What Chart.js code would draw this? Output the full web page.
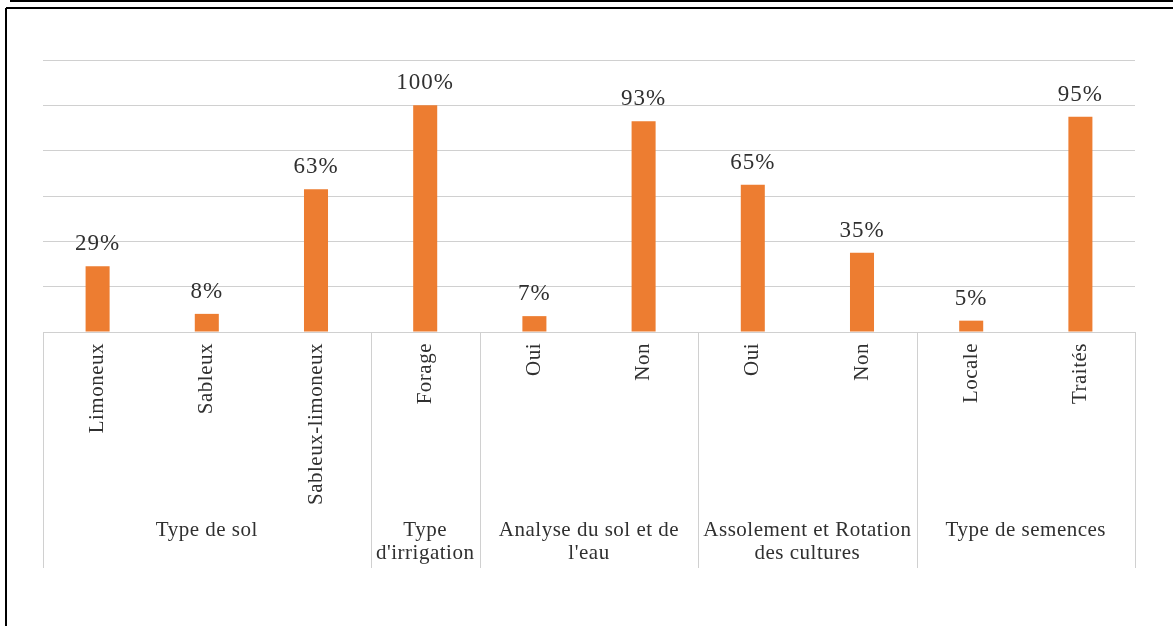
<!DOCTYPE html>
<html>
<head>
<meta charset="utf-8">
<script src="https://cdn.jsdelivr.net/npm/chart.js@4.4.1/dist/chart.umd.min.js"></script>
<style>
  body { margin: 0; background: #fff; }
  #wrap { width: 1173px; height: 626px; position: relative; }
</style>
</head>
<body>
<div id="wrap"><canvas id="barChart" width="1173" height="626"></canvas></div>
<script>
// categories (one bar each) and their values in %
const categories = ["Limoneux", "Sableux", "Sableux-limoneux", "Forage", "Oui", "Non", "Oui", "Non", "Locale", "Traités"];
const values = [29, 8, 63, 100, 7, 93, 65, 35, 5, 95];

// group labels under the rotated categories, with how many bars each one spans
const groups = [["Type de sol"], ["Type", "d'irrigation"], ["Analyse du sol et de", "l'eau"], ["Assolement et Rotation", "des cultures"], ["Type de semences"]];
const groupSizes = [3, 1, 2, 2, 2];

const yTicks = [0, 20, 40, 60, 80, 100, 120];

const serif = "'Liberation Serif', 'Times New Roman', serif";

const decorPlugin = {
  id: "decor",
  afterDraw(chart) {
    const ctx = chart.ctx;
    const x = chart.scales.x;
    const area = chart.chartArea;
    const bottomLine = 568;
    ctx.save();

    // outer frame (top double line + left side)
    ctx.strokeStyle = "#000";
    ctx.lineWidth = 2;
    ctx.beginPath();
    ctx.moveTo(10, 1); ctx.lineTo(1173, 1);
    ctx.moveTo(6, 8); ctx.lineTo(1173, 8);
    ctx.moveTo(6, 8); ctx.lineTo(6, 626);
    ctx.stroke();

    // axis line and group separators
    ctx.strokeStyle = "#d0d0d0";
    ctx.lineWidth = 1;
    ctx.beginPath();
    ctx.moveTo(area.left, area.bottom + 0.5);
    ctx.lineTo(area.right, area.bottom + 0.5);
    const half = (x.getPixelForValue(1) - x.getPixelForValue(0)) / 2;
    let idx = 0;
    const bounds = [x.getPixelForValue(0) - half];
    groupSizes.forEach((n) => {
      idx += n;
      bounds.push(x.getPixelForValue(idx - 1) + half);
    });
    bounds.forEach((b) => {
      const px = Math.round(b) + 0.5;
      ctx.moveTo(px, area.bottom);
      ctx.lineTo(px, bottomLine);
    });
    ctx.stroke();

    // rotated category labels
    ctx.fillStyle = "#303030";
    ctx.font = "21px " + serif;
    ctx.letterSpacing = "0.5px";
    categories.forEach((c, i) => {
      ctx.save();
      ctx.translate(x.getPixelForValue(i), area.bottom + 11);
      ctx.rotate(-Math.PI / 2);
      ctx.textAlign = "right";
      ctx.textBaseline = "middle";
      ctx.fillText(c, 0, 0);
      ctx.restore();
    });

    // group labels
    ctx.textAlign = "center";
    ctx.textBaseline = "middle";
    groups.forEach((lines, g) => {
      const cx = (bounds[g] + bounds[g + 1]) / 2;
      lines.forEach((t, k) => {
        ctx.fillText(t, cx, 530 + k * 23);
      });
    });

    // value labels above bars
    ctx.font = "23px " + serif;
    ctx.letterSpacing = "1px";
    ctx.textBaseline = "alphabetic";
    const meta = chart.getDatasetMeta(0);
    meta.data.forEach((bar, i) => {
      ctx.fillText(values[i] + "%", bar.x, bar.y - 16);
    });
    ctx.restore();
  },
};

new Chart(document.getElementById("barChart"), {
  type: "bar",
  plugins: [decorPlugin],
  data: {
    labels: categories,
    datasets: [
      {
        data: values,
        backgroundColor: "#ED7D31",
        borderWidth: 0,
        categoryPercentage: 1,
        barPercentage: 0.22,
      },
    ],
  },
  options: {
    responsive: false,
    animation: false,
    layout: { padding: { left: 43, right: 38, top: 60, bottom: 294 } },
    plugins: { legend: { display: false }, tooltip: { enabled: false } },
    scales: {
      x: { display: false },
      y: {
        min: 0,
        max: 120,
        afterBuildTicks: (scale) => {
          scale.ticks = yTicks.map((v) => ({ value: v }));
        },
        ticks: { display: false },
        grid: { color: "#d0d0d0", drawTicks: false },
        border: { display: false },
      },
    },
  },
});
</script>
</body>
</html>
